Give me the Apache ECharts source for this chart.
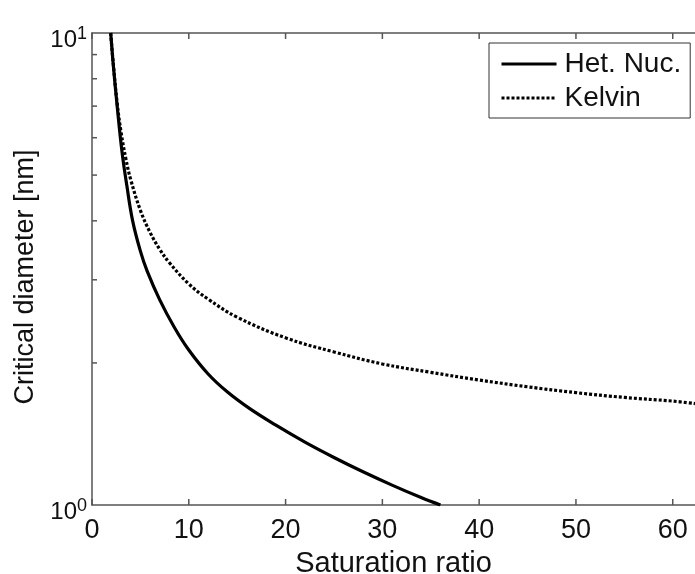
<!DOCTYPE html>
<html>
<head>
<meta charset="utf-8">
<script src="https://cdn.jsdelivr.net/npm/echarts@6/dist/echarts.min.js"></script>
<style>
  html, body { margin: 0; padding: 0; background: #fff; }
  #chart { width: 695px; height: 574px; }
</style>
</head>
<body>
<div id="chart"></div>
<script>
// data: saturation ratio -> critical diameter [nm]
var hetS = [1.93, 2.2, 2.6, 3.1, 3.6, 4.2, 5.0, 5.7, 7, 8.5, 10, 12, 14, 16.3, 19, 22, 25, 28, 31, 34, 36.0];
var hetD = [10, 8.55, 7.0, 5.6, 4.75, 4.0, 3.45, 3.13, 2.72, 2.38, 2.13, 1.895, 1.735, 1.6, 1.476, 1.359, 1.261, 1.176, 1.102, 1.037, 1.0];
var kelS = [1.93, 2.2, 2.6, 3, 3.5, 4, 5, 6, 7, 8, 10, 12, 15, 20, 25, 30, 35, 40, 45, 50, 55, 60, 62.3];
var kelD = [10, 8.6, 7.1, 6.17, 5.41, 4.89, 4.21, 3.78, 3.48, 3.26, 2.94, 2.73, 2.5, 2.26, 2.11, 1.99, 1.91, 1.84, 1.78, 1.73, 1.69, 1.66, 1.64];
var xTicks = [0, 10, 20, 30, 40, 50, 60];
var minorTicks = [2, 3, 4, 5, 6, 7, 8, 9];
var seriesNames = ['Het. Nuc.', 'Kelvin'];

function pairs(xs, ys) {
    return xs.map(function (x, i) { return [x, ys[i]]; });
}

var FONT = 'Liberation Sans';
var AXIS = '#555';

var myChart = echarts.init(document.getElementById('chart'));
var option = {
    animation: false,
    textStyle: { fontFamily: FONT, color: '#111' },
    grid: { left: 92, top: 33, right: 0, bottom: 69, outerBoundsMode: 'none', containLabel: false },
    legend: {
        orient: 'vertical',
        left: 489, top: 43,
        padding: [7, 9, 6, 11],
        itemWidth: 55, itemHeight: 14, itemGap: 6,
        borderColor: '#333', borderWidth: 1,
        backgroundColor: '#fff',
        itemStyle: { opacity: 0 },
        lineStyle: { width: 3 },
        textStyle: { fontFamily: FONT, fontSize: 28, lineHeight: 28, color: '#111', padding: [0, 0, 0, 3] },
        data: seriesNames
    },
    xAxis: [{
        type: 'value', min: 0, max: 62.3, interval: 10,
        axisLine: { show: true, lineStyle: { color: AXIS, width: 1.5 } },
        axisTick: { show: false },
        axisLabel: { fontSize: 27, color: '#111', margin: 12, showMaxLabel: false },
        splitLine: { show: false },
        name: 'Saturation ratio', nameLocation: 'middle', nameGap: 44,
        nameTextStyle: { fontSize: 29, color: '#111' }
    }, {
        type: 'value', position: 'top', min: 0, max: 62.3, interval: 10,
        axisLine: { show: true, lineStyle: { color: AXIS, width: 1.5 } },
        axisTick: { show: false },
        axisLabel: { show: false },
        splitLine: { show: false }
    }],
    yAxis: [{
        type: 'log', logBase: 10, min: 1, max: 10,
        axisLine: { show: true, lineStyle: { color: AXIS, width: 1.5 } },
        axisTick: { show: false },
        splitLine: { show: false },
        axisLabel: {
            margin: 5,
            padding: [14, 0, 0, 0],
            formatter: function (v) { return '{b|10}{s|' + Math.round(Math.log10(v)) + '}'; },
            rich: {
                b: { fontSize: 24, color: '#111', fontFamily: FONT, lineHeight: 30 },
                s: { fontSize: 18, color: '#111', fontFamily: FONT, lineHeight: 30, verticalAlign: 'top', padding: [0, 0, 14, 0] }
            }
        },
        name: 'Critical diameter [nm]', nameLocation: 'middle', nameGap: 52,
        nameTextStyle: { fontSize: 27, color: '#111', padding: [0, 16, 0, 0] }
    }],
    series: [{
        name: seriesNames[0], type: 'line', smooth: 0.4, symbol: 'none',
        lineStyle: { color: '#000', width: 3.2 },
        itemStyle: { color: '#000' },
        data: pairs(hetS, hetD)
    }, {
        name: seriesNames[1], type: 'line', smooth: 0.4, symbol: 'none',
        lineStyle: { color: '#000', width: 3.2, type: [3, 2] },
        itemStyle: { color: '#000' },
        data: pairs(kelS, kelD)
    }]
};
myChart.setOption(option);

// inward ticks, placed through the axes' own scales
var yBottom = myChart.convertToPixel({ yAxisIndex: 0 }, 1);
var yTop = myChart.convertToPixel({ yAxisIndex: 0 }, 10);
var xLeft = myChart.convertToPixel({ xAxisIndex: 0 }, 0);
var tickStyle = { stroke: AXIS, lineWidth: 1.5 };
var ticks = [];
xTicks.forEach(function (v) {
    var px = myChart.convertToPixel({ xAxisIndex: 0 }, v);
    ticks.push({ type: 'line', silent: true, z: 100, shape: { x1: px, y1: yBottom, x2: px, y2: yBottom - 6 }, style: tickStyle });
    ticks.push({ type: 'line', silent: true, z: 100, shape: { x1: px, y1: yTop, x2: px, y2: yTop + 6 }, style: tickStyle });
});
minorTicks.forEach(function (v) {
    var py = myChart.convertToPixel({ yAxisIndex: 0 }, v);
    ticks.push({ type: 'line', silent: true, z: 100, shape: { x1: xLeft, y1: py, x2: xLeft + 5, y2: py }, style: tickStyle });
});
myChart.setOption({ graphic: { elements: ticks } });
</script>
</body>
</html>
